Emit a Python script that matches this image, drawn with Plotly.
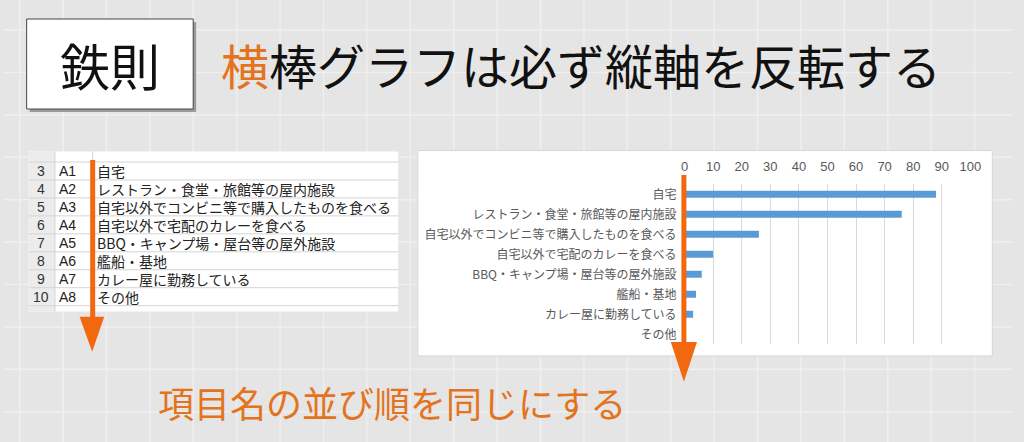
import plotly.graph_objects as go

W, H = 1024, 442

# chart data
categories = ["自宅", "レストラン・食堂・旅館等の屋内施設", "自宅以外でコンビニ等で購入したものを食べる",
              "自宅以外で宅配のカレーを食べる", "BBQ・キャンプ場・屋台等の屋外施設", "艦船・基地",
              "カレー屋に勤務している", "その他"]
values = [88, 76, 26, 10, 6, 4, 3, 0]
x_ticks = [0, 10, 20, 30, 40, 50, 60, 70, 80, 90, 100]

# spreadsheet columns
sheet_rows = ["3", "4", "5", "6", "7", "8", "9", "10"]
codes = ["A1", "A2", "A3", "A4", "A5", "A6", "A7", "A8"]

title_main = "<span style='color:#e4731e'>横</span>棒グラフは必ず縦軸を反転する"
note_text = "項目名の並び順を同じにする"

JP = "Noto Sans CJK JP"
ORANGE = "#f2680f"


def px(x):
    return x / W


def py(y):
    return 1 - y / H


shapes = []

# background grid of the slide
x = 720.7 - 44.05 * 16
while x < W:
    shapes.append(dict(type="line", xref="paper", yref="paper", x0=px(x), x1=px(x), y0=0, y1=1,
                       line=dict(color="#efefef", width=1.5), layer="below"))
    x += 44.05
y = 369.3 - 42.4 * 9
while y < H:
    shapes.append(dict(type="line", xref="paper", yref="paper", x0=0, x1=1, y0=py(y), y1=py(y),
                       line=dict(color="#efefef", width=1.5), layer="below"))
    y += 42.4

# title box with shadow
shapes.append(dict(type="rect", xref="paper", yref="paper", x0=px(26), x1=px(195), y0=py(112), y1=py(22),
                   fillcolor="#9a9a9a", line=dict(width=0), layer="below"))
shapes.append(dict(type="rect", xref="paper", yref="paper", x0=px(23), x1=px(192), y0=py(109), y1=py(19),
                   fillcolor="white", line=dict(color="#444444", width=1), layer="below"))

# chart panel
shapes.append(dict(type="rect", xref="paper", yref="paper", x0=px(420), x1=px(1003), y0=py(356), y1=py(150.5),
                   fillcolor="white", line=dict(color="#d6d6d6", width=1), layer="below"))

# spreadsheet panel
t_top, t_bot, t_left, t_right = 151.5, 311.5, 25, 400
row_h = 17.96
shapes.append(dict(type="rect", xref="paper", yref="paper", x0=px(t_left), x1=px(t_right), y0=py(t_bot), y1=py(t_top),
                   fillcolor="white", line=dict(width=0), layer="below"))
shapes.append(dict(type="rect", xref="paper", yref="paper", x0=px(t_left), x1=px(51.7), y0=py(t_bot), y1=py(t_top),
                   fillcolor="#ececec", line=dict(width=0), layer="below"))
for k in range(10):
    yy = 162 + row_h * (k - 1)
    if t_top < yy < t_bot:
        shapes.append(dict(type="line", xref="paper", yref="paper", x0=px(t_left), x1=px(t_right),
                           y0=py(yy), y1=py(yy), line=dict(color="#d4d4d4", width=1)))
for xx in [51.7, 90]:
    shapes.append(dict(type="line", xref="paper", yref="paper", x0=px(xx), x1=px(xx),
                       y0=py(t_bot), y1=py(t_top), line=dict(color="#d4d4d4", width=1)))

# orange arrows
shapes.append(dict(type="line", xref="paper", yref="paper", x0=px(90), x1=px(90), y0=py(160), y1=py(320),
                   line=dict(color=ORANGE, width=5)))
shapes.append(dict(type="path", xref="paper", yref="paper",
                   path=f"M {px(76.7)},{py(316.7)} L {px(101.7)},{py(316.7)} L {px(89.5)},{py(351.7)} Z",
                   fillcolor=ORANGE, line=dict(width=0)))
shapes.append(dict(type="line", xref="paper", yref="paper", x0=px(690), x1=px(690), y0=py(175), y1=py(345),
                   line=dict(color=ORANGE, width=5)))
shapes.append(dict(type="path", xref="paper", yref="paper",
                   path=f"M {px(676.7)},{py(342)} L {px(703.3)},{py(342)} L {px(690)},{py(381.7)} Z",
                   fillcolor=ORANGE, line=dict(width=0)))

annotations = [
    dict(text="鉄則", x=px(107.5), y=py(64), xref="paper", yref="paper", showarrow=False,
         xanchor="center", yanchor="middle", font=dict(family=JP, size=50, color="#111111")),
    dict(text=title_main, x=px(218), y=py(64), xref="paper", yref="paper", showarrow=False,
         xanchor="left", yanchor="middle", font=dict(family=JP, size=48, color="#111111")),
    dict(text=note_text, x=px(154), y=py(402), xref="paper", yref="paper", showarrow=False,
         xanchor="left", yanchor="middle", font=dict(family=JP, size=36, color="#e4731e")),
]

for i, (rn, code, cat) in enumerate(zip(sheet_rows, codes, categories)):
    yc = 171 + row_h * i
    annotations.append(dict(text=rn, x=px(37.5), y=py(yc), xref="paper", yref="paper", showarrow=False,
                            xanchor="center", yanchor="middle",
                            font=dict(family="Liberation Sans", size=14, color="#333333")))
    annotations.append(dict(text=code, x=px(53.5), y=py(yc), xref="paper", yref="paper", showarrow=False,
                            xanchor="left", yanchor="middle",
                            font=dict(family="Liberation Sans", size=14, color="#222222")))
    annotations.append(dict(text=cat, x=px(92), y=py(yc), xref="paper", yref="paper", showarrow=False,
                            xanchor="left", yanchor="middle",
                            font=dict(family=JP, size=14, color="#222222")))

fig = go.Figure(go.Bar(x=values, y=categories, orientation="h", marker=dict(color="#5b9bd5", line=dict(width=0)),
                       hoverinfo="skip"))

fig.update_layout(
    width=W, height=H, autosize=False,
    margin=dict(l=0, r=0, t=0, b=0),
    paper_bgcolor="#e5e5e5", plot_bgcolor="white",
    showlegend=False, bargap=0.65,
    shapes=shapes, annotations=annotations,
    xaxis=dict(domain=[px(690.7), px(980.7)], range=[0, 100], side="top", tickvals=x_ticks,
               showgrid=True, gridcolor="#d9d9d9", gridwidth=1, zeroline=False, showline=False,
               tickfont=dict(family="Liberation Sans", size=13, color="#595959"), ticklabelstandoff=10),
    yaxis=dict(domain=[py(344.3), py(184.3)], type="category", autorange="reversed",
               showgrid=False, zeroline=False, showline=False, ticks="",
               tickfont=dict(family=JP, size=12, color="#595959"), ticklabelstandoff=7),
)

# the page's default 8px body margin would push the figure off the window
fig.write_html("out.html", config={"displayModeBar": False},
               post_script="document.body.style.margin='0';")
